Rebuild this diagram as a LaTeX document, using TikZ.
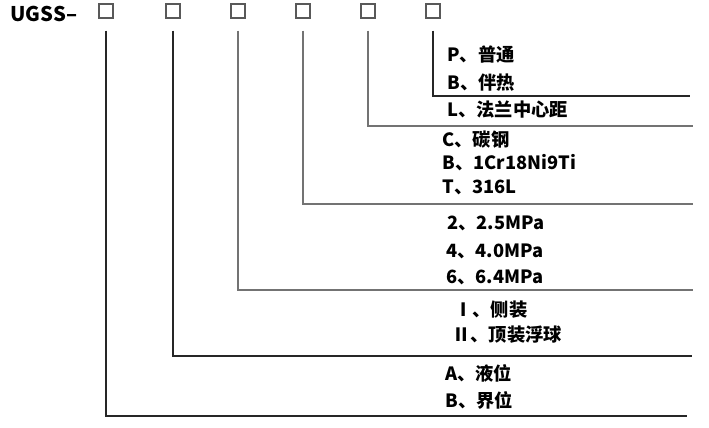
\documentclass[tikz,border=0pt]{standalone}
\usepackage{fontspec}
\setmainfont{Noto Sans CJK SC}
\begin{document}
\begin{tikzpicture}[x=0.02cm,y=-0.02cm,
    box/.style={draw=black!65,line width=0.6pt,minimum size=0.28cm,inner sep=0pt},
    lbl/.style={anchor=west,inner sep=0pt,font=\fontsize{10.4}{12}\selectfont\bfseries},
    lead/.style={line width=0.6pt}]
  \useasboundingbox (0,0) rectangle (709,427);
  % model code and its six blank fields
  \node[lbl,font=\fontsize{11.5}{13}\selectfont\bfseries] (code) at (10,14) {UGSS–};
  \foreach \i/\x in {1/106,2/173,3/238,4/303,5/368,6/433}{
    \node[box] (b\i) at (\x,11) {};
  }
  % options of each field
  \foreach \n/\x/\y/\t in {p/447/55/P、普通, bh/447/83/B、伴热,
      l/447/110/L、法兰中心距,
      c/442/140/C、碳钢, bc/442/163/B、1Cr18Ni9Ti, t/442/187/T、316L,
      m2/447/223/2、2.5MPa, m4/446/251/4、4.0MPa, m6/446/277/6、6.4MPa,
      s1/454/310/Ⅰ、侧装, s2/452/335/Ⅱ、顶装浮球,
      a/445/373/A、液位, bj/445/400/B、界位}{
    \node[lbl] (\n) at (\x,\y) {\t};
  }
  % leaders from the fields
  \foreach \i/\y/\xe/\c in {1/416/687/black!85, 2/356/692/black!85, 3/290/693/black!55,
      4/204/693/black!55, 5/126/693/black!55, 6/96/690/black!85}{
    \coordinate (e\i) at (\xe,\y);
    \draw[lead,draw=\c] (b\i.south) ++(0,12) |- (e\i);
  }
\end{tikzpicture}
\end{document}
